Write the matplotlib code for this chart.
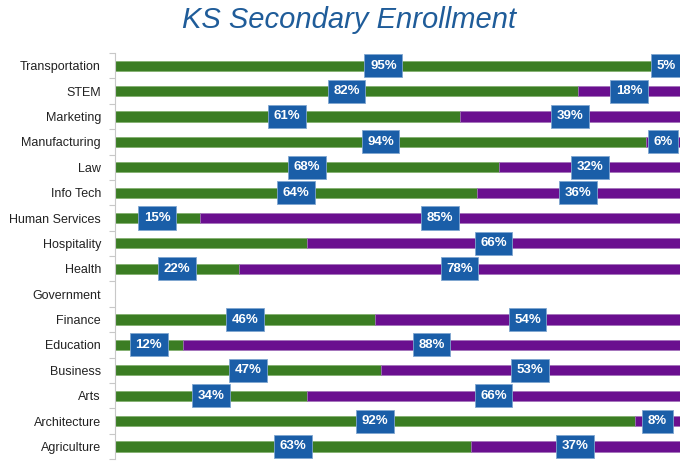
import matplotlib.pyplot as plt
import numpy as np

plt.rcParams['font.family'] = ['Liberation Sans', 'DejaVu Sans']

categories = ["Transportation", "STEM", "Marketing", "Manufacturing", "Law",
              "Info Tech", "Human Services", "Hospitality", "Health", "Government",
              "Finance", "Education", "Business", "Arts", "Architecture", "Agriculture"]
green_vals = [95, 82, 61, 94, 68, 64, 15, 34, 22, 0, 46, 12, 47, 34, 92, 63]
purple_vals = [5, 18, 39, 6, 32, 36, 85, 66, 78, 0, 54, 88, 53, 66, 8, 37]
# labels shown in the chart (Hospitality's green label and Government are absent)
green_labels = ["95%", "82%", "61%", "94%", "68%", "64%", "15%", None, "22%", None,
                "46%", "12%", "47%", "34%", "92%", "63%"]
purple_labels = ["5%", "18%", "39%", "6%", "32%", "36%", "85%", "66%", "78%", None,
                 "54%", "88%", "53%", "66%", "8%", "37%"]

green = "#3b7d23"
purple = "#6a0f8f"
box = "#1a5ea8"

fig = plt.figure(figsize=(6.8, 4.61), dpi=100)
ax = fig.add_axes([0.169, 0.004, 0.831, 0.881])

y = np.arange(len(categories))[::-1]
g = np.array(green_vals) / 100
p = np.array(purple_vals) / 100
ax.barh(y, g, height=0.4, color=green, edgecolor="#7fae6a", linewidth=0.5)
ax.barh(y, p, left=g, height=0.4, color=purple, edgecolor="#a070b8", linewidth=0.5)

bbox = dict(boxstyle="square,pad=0.42", fc=box, ec="#7fa6d0", lw=0.6)
for yi, gv, pv, gl, pl in zip(y, g, p, green_labels, purple_labels):
    if gl:
        ax.text(gv / 2, yi, gl, ha="center", va="center", color="white",
                fontsize=9.5, fontweight="bold", bbox=bbox, clip_on=False)
    if pl:
        ax.text(gv + pv / 2, yi, pl, ha="center", va="center", color="white",
                fontsize=9.5, fontweight="bold", bbox=bbox, clip_on=False)

ax.set_xlim(0, 1)
ax.set_ylim(-0.5, len(categories) - 0.5)
ax.set_xticks([])
ax.set_yticks(y)
ax.set_yticklabels(categories, fontsize=9, color="#222222")
ax.set_yticks(np.arange(-0.5, len(categories), 1), minor=True)
ax.tick_params(axis="y", which="major", length=0, pad=10)
ax.tick_params(axis="y", which="minor", length=4, color="#c8c8c8", width=0.8)
for s in ["top", "right", "bottom"]:
    ax.spines[s].set_visible(False)
ax.spines["left"].set_color("#c8c8c8")
ax.spines["left"].set_linewidth(0.8)

fig.text(0.513, 0.957, "KS Secondary Enrollment", ha="center", va="center",
         fontsize=21, style="italic", color="#1f5c99")

fig.savefig("out.png", dpi=100)
